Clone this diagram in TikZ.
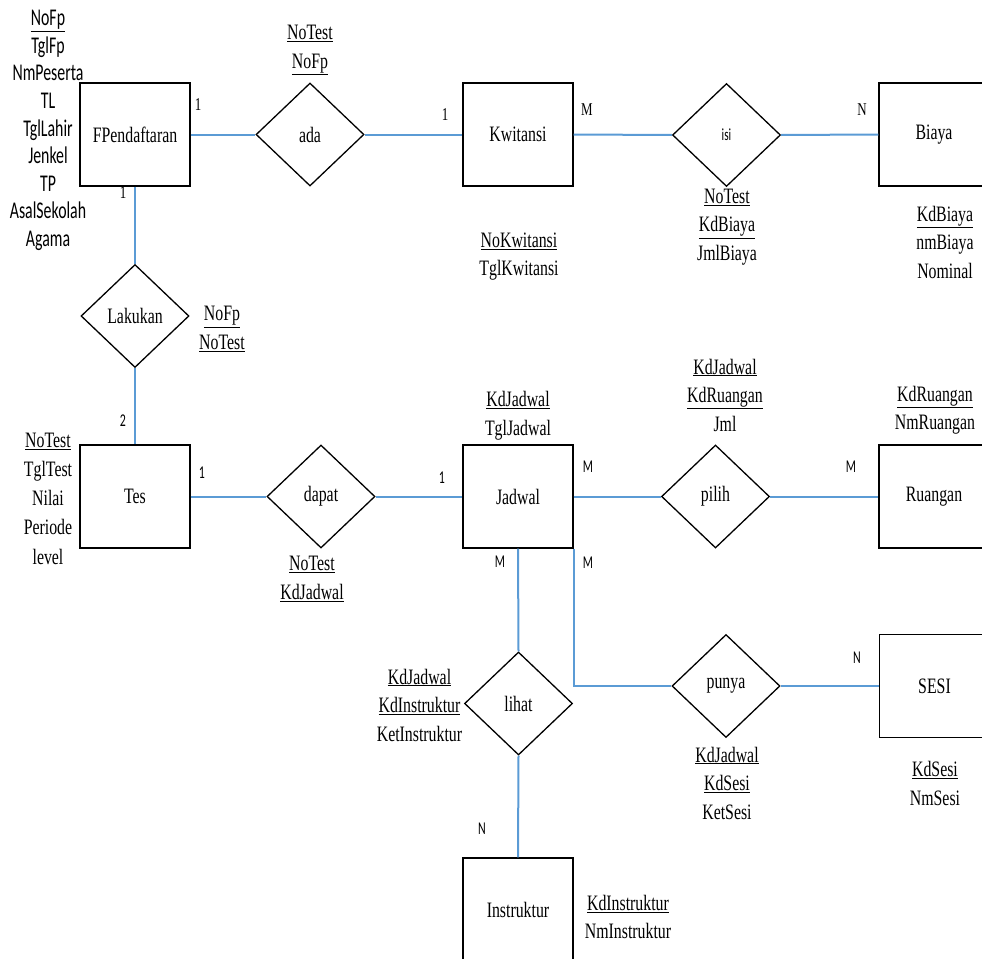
\documentclass[tikz,border=0pt]{standalone}
\usepackage{fontspec}
\newfontfamily\timesfont{Liberation Serif}[FakeStretch=0.72]
\newfontfamily\calibfont{Carlito}[FakeStretch=0.66]
\usetikzlibrary{shapes.geometric}
\definecolor{linkblue}{RGB}{91,155,213}
\tikzset{
  ent/.style={draw=black, line width=1.4pt, rectangle, minimum width=110pt,
    minimum height=103pt, inner sep=0pt, font=\timesfont\fontsize{22}{26}\selectfont},
  rel/.style={draw=black, line width=1.3pt, diamond, minimum width=108pt,
    minimum height=103pt, inner sep=0pt, font=\timesfont\fontsize{22}{26}\selectfont},
  attr/.style={align=center, inner sep=0pt, font=\timesfont\fontsize{22}{28.5}\selectfont},
  cattr/.style={align=center, inner sep=0pt, font=\calibfont\fontsize{24}{27.6}\selectfont},
  cards/.style={inner sep=0pt, font=\timesfont\fontsize{18}{20}\selectfont},
  cardc/.style={inner sep=0pt, font=\calibfont\fontsize{18}{20}\selectfont},
  link/.style={draw=linkblue, line width=2pt},
}
\begin{document}
\begin{tikzpicture}[x=1pt, y=-1pt]
\useasboundingbox (0,0) rectangle (982,958);

% entities
\node[ent] (fp) at (135,134.5) {FPendaftaran};
\node[ent] (kw) at (518,134.5) {Kwitansi};
\node[ent] (biaya) at (934,134.5) {Biaya};
\node[ent] (tes) at (135,496.5) {Tes};
\node[ent] (jadwal) at (518,496.5) {Jadwal};
\node[ent] (ruangan) at (934,496.5) {Ruangan};
\node[ent] (sesi) at (934.5,686) {SESI};
\node[ent] (instruktur) at (518,909.5) {Instruktur};

% relationships
\node[rel] (ada) at (310,134.5) {ada};
\node[rel, font=\calibfont\fontsize{17}{20}\selectfont] (isi) at (726.5,135) {isi};
\node[rel] (lakukan) at (135,316) {Lakukan};
\node[rel] (dapat) at (321,496.5) {dapat};
\node[rel] (pilih) at (715.5,496.5) {pilih};
\node[rel] (lihat) at (518.5,703.5) {lihat};
\node[rel] (punya) at (726,686) {punya};

% connectors
\draw[link] (fp.east) -- (ada.west);
\draw[link] (ada.east) -- (kw.west);
\draw[link] (kw.east) -- (isi.west);
\draw[link] (isi.east) -- (biaya.west);
\draw[link] (fp.south) -- (lakukan.north);
\draw[link] (lakukan.south) -- (tes.north);
\draw[link] (tes.east) -- (dapat.west);
\draw[link] (dapat.east) -- (jadwal.west);
\draw[link] (jadwal.east) -- (pilih.west);
\draw[link] (pilih.east) -- (ruangan.west);
\draw[link] (jadwal.south) -- (lihat.north);
\draw[link] (lihat.south) -- (instruktur.north);
\draw[link] (jadwal.south east) -- (jadwal.south east |- punya.west) -- (punya.west);
\draw[link] (punya.east) -- (sesi.west);

% cardinalities
\node[cards] (c1) at (198,105) {1};
\node[cards] (c2) at (123,193) {1};
\node[cards] (c3) at (445,115) {1};
\node[cards] (c4) at (587,110) {M};
\node[cards] (c5) at (862,110) {N};
\node[cardc] (c6) at (123,421) {2};
\node[cardc] (c7) at (202,473) {1};
\node[cardc] (c8) at (442,478) {1};
\node[cardc] (c9) at (588,467) {M};
\node[cardc] (c10) at (851,467) {M};
\node[cardc] (c11) at (500,562) {M};
\node[cardc] (c12) at (588,563) {M};
\node[cardc] (c13) at (857,658) {N};
\node[cardc] (c14) at (482,829) {N};

% attributes
\node[cattr] (afp) at (48,130.5) {\underline{NoFp}\\TglFp\\NmPeserta\\TL\\TglLahir\\Jenkel\\TP\\AsalSekolah\\Agama};
\node[attr, font=\timesfont\fontsize{22}{29.2}\selectfont] (ates) at (48,498.5) {\underline{NoTest}\\TglTest\\Nilai\\Periode\\level};
\node[attr] (aada) at (310,50) {\underline{NoTest}\\\underline{NoFp}};
\node[attr] (alak) at (222,329) {\underline{NoFp}\\\underline{NoTest}};
\node[attr] (akw) at (519,256.5) {\underline{NoKwitansi}\\TglKwitansi};
\node[attr] (aisi) at (727,227) {\underline{NoTest}\\\underline{KdBiaya}\\JmlBiaya};
\node[attr] (abiaya) at (945,242) {\underline{KdBiaya}\\nmBiaya\\Nominal};
\node[attr] (ajadwal) at (518,415.5) {\underline{KdJadwal}\\TglJadwal};
\node[attr] (apilih) at (725,395) {\underline{KdJadwal}\\\underline{KdRuangan}\\Jml};
\node[attr] (aruang) at (935,410) {\underline{KdRuangan}\\NmRuangan};
\node[attr] (adapat) at (312,579) {\underline{NoTest}\\\underline{KdJadwal}};
\node[attr] (alihat) at (419.5,705) {\underline{KdJadwal}\\\underline{KdInstruktur}\\KetInstruktur};
\node[attr] (apunya) at (727,783) {\underline{KdJadwal}\\\underline{KdSesi}\\KetSesi};
\node[attr] (asesi) at (935,783.5) {\underline{KdSesi}\\NmSesi};
\node[attr] (ainst) at (628,917) {\underline{KdInstruktur}\\NmInstruktur};
\end{tikzpicture}
\end{document}
